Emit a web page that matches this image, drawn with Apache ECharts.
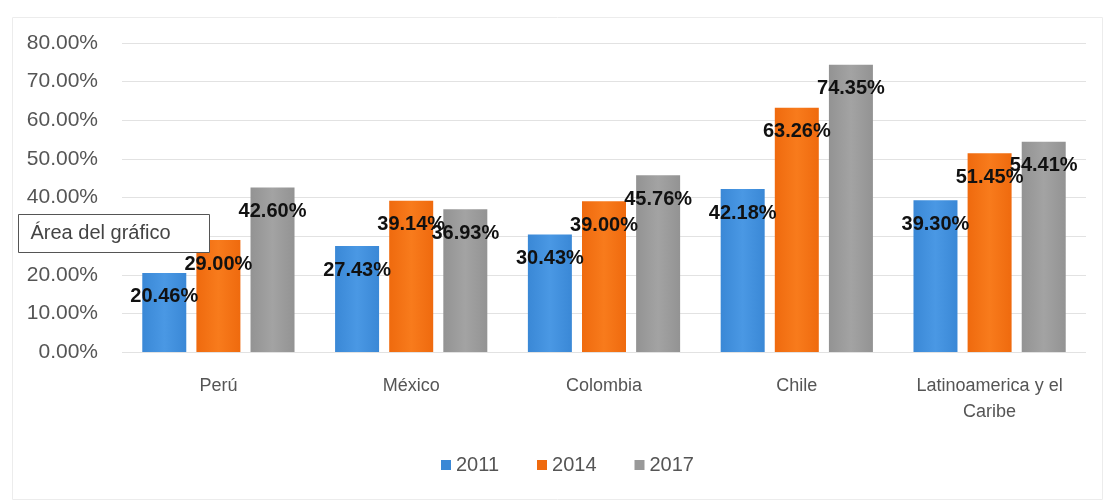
<!DOCTYPE html>
<html><head><meta charset="utf-8">
<script src="https://cdn.jsdelivr.net/npm/echarts@6/dist/echarts.min.js"></script>
<style>html,body{margin:0;padding:0;background:#fff}#c{width:1104px;height:501px}</style>
</head><body><div id="c"></div>
<script>
const categories = ['Perú', 'México', 'Colombia', 'Chile', 'Latinoamerica y el\nCaribe'];
const seriesNames = ['2011', '2014', '2017'];
const values2011 = [20.46, 27.43, 30.43, 42.18, 39.30];
const values2014 = [29.00, 39.14, 39.00, 63.26, 51.45];
const values2017 = [42.60, 36.93, 45.76, 74.35, 54.41];
const yTicks = [0, 10, 20, 30, 40, 50, 60, 70, 80];

const FONT = 'Liberation Sans';
function grad(c1, c2) {
  return new echarts.graphic.LinearGradient(0, 0, 1, 0, [
    {offset: 0, color: c1}, {offset: 0.5, color: c2}, {offset: 1, color: c1}
  ]);
}
const colors = [grad('#3a88d6', '#4a98e4'), grad('#ef6a0e', '#f87b1c'), grad('#939393', '#a3a3a3')];
const legendColors = ['#3a88d6', '#ef6a0e', '#999999'];
const allValues = [values2011, values2014, values2017];

const chart = echarts.init(document.getElementById('c'));
chart.setOption({
  animation: false,
  textStyle: {fontFamily: FONT},
  grid: {left: 122, right: 18, top: 43, bottom: 149},
  legend: {
    bottom: 21, left: 436, itemWidth: 10, itemHeight: 10, itemGap: 38,
    icon: 'rect',
    textStyle: {fontSize: 20, color: '#555', fontFamily: FONT},
    data: seriesNames.map((n, i) => ({name: n, itemStyle: {color: legendColors[i]}}))
  },
  xAxis: {
    type: 'category', data: categories,
    axisLine: {show: false}, axisTick: {show: false},
    axisLabel: {interval: 0, fontSize: 18, color: '#555', margin: 21, lineHeight: 26, fontFamily: FONT}
  },
  yAxis: {
    type: 'value', min: yTicks[0], max: yTicks[yTicks.length - 1], interval: 10,
    axisLabel: {fontSize: 21, color: '#555', margin: 24, formatter: v => v.toFixed(2) + '%', fontFamily: FONT},
    splitLine: {lineStyle: {color: '#e2e2e2', width: 1}},
    axisLine: {show: false}, axisTick: {show: false}
  },
  series: seriesNames.map((n, i) => ({
    name: n, type: 'bar', data: allValues[i],
    barWidth: 44, barGap: '23%',
    itemStyle: {color: colors[i]},
    label: {
      show: true, position: 'insideTop', distance: 14,
      formatter: p => p.value.toFixed(2) + '%',
      color: '#111', fontWeight: 'bold', fontSize: 20, fontFamily: FONT
    }
  })),
  graphic: [
    {type: 'rect', left: 10, top: 15, shape: {width: 1090, height: 482},
     style: {fill: 'none', stroke: '#ececec', lineWidth: 1}, silent: true},
    {type: 'group', left: 18, top: 214, zlevel: 2, z: 100, children: [
      {type: 'rect', zlevel: 2, shape: {width: 191, height: 38}, style: {fill: '#fff', stroke: '#555', lineWidth: 1}},
      {type: 'text', zlevel: 2, x: 12, y: 19, style: {text: 'Área del gráfico', fontSize: 20, fill: '#444', fontFamily: FONT, verticalAlign: 'middle'}}
    ]}
  ]
});
</script></body></html>
